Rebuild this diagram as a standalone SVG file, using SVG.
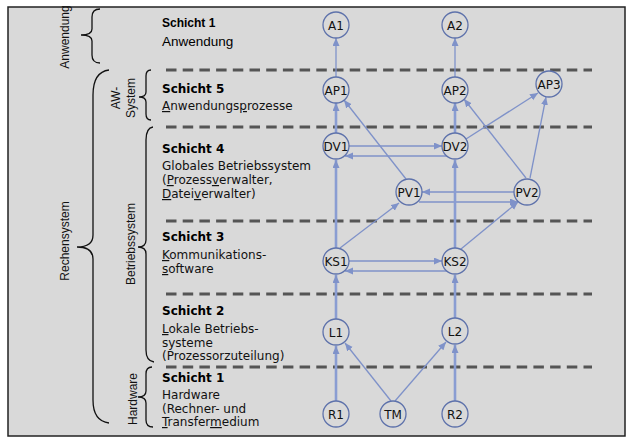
<svg xmlns="http://www.w3.org/2000/svg" width="635" height="444" viewBox="0 0 635 444">
<style>
.bg{fill:#d9d9d9;stroke:#222;stroke-width:1.5}
.dash{stroke:#555;stroke-width:3;stroke-dasharray:10.5 6.2;fill:none}
.brace{fill:none;stroke:#111;stroke-width:1.3}
.lbl{font-family:"Liberation Sans",Arial,sans-serif;font-size:12px;fill:#111;text-anchor:middle}
.h{font-family:"DejaVu Sans",Verdana,sans-serif;font-size:12px;fill:#111}
.hb{font-family:"DejaVu Sans",Verdana,sans-serif;font-size:12px;font-weight:bold;fill:#000}
.u{text-decoration:underline}
.node circle{fill:#d9d9d9;stroke:#5e72ab;stroke-width:1.3}
.node text{font-family:"DejaVu Sans",Verdana,sans-serif;font-size:12px;fill:#111;text-anchor:middle}
.e{stroke:#7f92c9;stroke-width:1.3;fill:none;marker-end:url(#ah)}
.v{stroke:#8a9dd2;stroke-width:2.6}
</style>
<defs>
<marker id="ah" markerUnits="userSpaceOnUse" markerWidth="9" markerHeight="8" refX="8" refY="3.5" orient="auto">
<path d="M0,0 L8,3.5 L0,7 z" fill="#7f92c9"/>
</marker>
</defs>
<rect class="bg" x="8" y="7" width="617" height="429"/>

<g id="layers">
<line class="dash" x1="166" y1="70" x2="592" y2="70"/>
<line class="dash" x1="166" y1="127" x2="592" y2="127"/>
<line class="dash" x1="166" y1="221" x2="592" y2="221"/>
<line class="dash" x1="166" y1="294" x2="592" y2="294"/>
<line class="dash" x1="166" y1="367" x2="592" y2="367"/>
</g>

<g id="braces">
<path class="brace" d="M100,9 Q92,9 92,17 L92,29 Q92,35 81,35 Q92,35 92,41 L92,55 Q92,63 100,63"/>
<path class="brace" d="M109,70 Q93,72 93,95 L93,235 Q93,247 77,247 Q93,247 93,259 L93,400 Q93,421 109,423"/>
<path class="brace" d="M151,70 Q146,70 146,76 L146,92 Q146,97 139,97 Q146,97 146,102 L146,114 Q146,120 151,120"/>
<path class="brace" d="M153,127 Q146,128 146,140 L146,240 Q146,247 138,247 Q146,247 146,254 L146,350 Q146,361 154,362"/>
<path class="brace" d="M152,367 Q146,367 146,374 L146,391 Q146,397 138,397 Q146,397 146,403 L146,420 Q146,427 153,427"/>
</g>

<g id="side-labels">
<text class="lbl" transform="translate(69,37) rotate(-90)">Anwendung</text>
<text class="lbl" transform="translate(69,241) rotate(-90)">Rechensystem</text>
<text class="lbl" transform="translate(120,98) rotate(-90)">AW-</text>
<text class="lbl" transform="translate(134.5,98) rotate(-90)">System</text>
<text class="lbl" transform="translate(134.5,244) rotate(-90)">Betriebssystem</text>
<text class="lbl" transform="translate(137,399) rotate(-90)">Hardware</text>
</g>

<g id="layer-texts">
<text x="162" y="27" style="font-family:'Liberation Sans',Arial,sans-serif;font-size:12px;font-weight:bold">Schicht 1</text>
<text x="162" y="46" style="font-family:'Liberation Sans',Arial,sans-serif;font-size:13.5px">Anwendung</text>
<text class="hb" x="162" y="93">Schicht 5</text>
<text class="h" x="162" y="110"><tspan class="u">A</tspan>nwendungs<tspan class="u">p</tspan>rozesse</text>
<text class="hb" x="162" y="153">Schicht 4</text>
<text class="h" x="162" y="170">Globales Betriebssystem</text>
<text class="h" x="162" y="184">(<tspan class="u">P</tspan>rozess<tspan class="u">v</tspan>erwalter,</text>
<text class="h" x="162" y="198"><tspan class="u">D</tspan>atei<tspan class="u">v</tspan>erwalter)</text>
<text class="hb" x="162" y="241">Schicht 3</text>
<text class="h" x="162" y="259"><tspan class="u">K</tspan>ommunikations-</text>
<text class="h" x="162" y="273"><tspan class="u">s</tspan>oftware</text>
<text class="hb" x="162" y="315">Schicht 2</text>
<text class="h" x="162" y="333"><tspan class="u">L</tspan>okale Betriebs-</text>
<text class="h" x="162" y="346.5">systeme</text>
<text class="h" x="162" y="360">(Prozessorzuteilung)</text>
<text class="hb" x="162" y="382">Schicht 1</text>
<text class="h" x="162" y="399">Hardware</text>
<text class="h" x="162" y="412.5">(Rechner- und</text>
<text class="h" x="162" y="426"><tspan class="u">T</tspan>ransfer<tspan class="u">m</tspan>edium</text>
</g>

<g id="connectors">
<line class="e" x1="336" y1="77" x2="336" y2="38"/>
<line class="e" x1="455" y1="77" x2="455" y2="38"/>
<line class="e v" x1="336" y1="133" x2="336" y2="103"/>
<line class="e v" x1="455" y1="133" x2="455" y2="103"/>
<line class="e" x1="349" y1="146" x2="442" y2="146"/>
<line class="e" x1="447" y1="156" x2="345" y2="156"/>
<line class="e" x1="406" y1="179" x2="344" y2="100"/>
<line class="e" x1="526" y1="178" x2="464" y2="99"/>
<line class="e" x1="466" y1="139" x2="538" y2="93"/>
<line class="e" x1="530" y1="178" x2="546" y2="97"/>
<line class="e" x1="514" y1="192" x2="422" y2="192"/>
<line class="e" x1="419" y1="202" x2="518" y2="202"/>
<line class="e v" x1="336" y1="248" x2="336" y2="160"/>
<line class="e v" x1="455" y1="248" x2="455" y2="160"/>
<line class="e" x1="340" y1="248" x2="399" y2="203"/>
<line class="e" x1="461" y1="249" x2="518" y2="202"/>
<line class="e" x1="349" y1="261" x2="442" y2="261"/>
<line class="e" x1="447" y1="271" x2="345" y2="271"/>
<line class="e v" x1="336" y1="319" x2="336" y2="275"/>
<line class="e v" x1="455" y1="318" x2="455" y2="275"/>
<line class="e v" x1="336" y1="401" x2="336" y2="346"/>
<line class="e v" x1="455" y1="401" x2="455" y2="345"/>
<line class="e" x1="391" y1="401" x2="345" y2="343"/>
<line class="e" x1="395" y1="401" x2="446" y2="342"/>
</g>

<g id="A1" class="node"><circle cx="336" cy="25" r="13"/><text x="336" y="29.5">A1</text></g>
<g id="A2" class="node"><circle cx="455" cy="25" r="13"/><text x="455" y="29.5">A2</text></g>
<g id="AP1" class="node"><circle cx="336" cy="90" r="13"/><text x="336" y="94.5">AP1</text></g>
<g id="AP2" class="node"><circle cx="455" cy="90" r="13"/><text x="455" y="94.5">AP2</text></g>
<g id="AP3" class="node"><circle cx="549" cy="84" r="13"/><text x="549" y="88.5">AP3</text></g>
<g id="DV1" class="node"><circle cx="336" cy="146" r="13"/><text x="336" y="150.5">DV1</text></g>
<g id="DV2" class="node"><circle cx="455" cy="146" r="13"/><text x="455" y="150.5">DV2</text></g>
<g id="PV1" class="node"><circle cx="409" cy="192" r="13"/><text x="409" y="196.5">PV1</text></g>
<g id="PV2" class="node"><circle cx="527" cy="192" r="13"/><text x="527" y="196.5">PV2</text></g>
<g id="KS1" class="node"><circle cx="336" cy="261" r="13"/><text x="336" y="265.5">KS1</text></g>
<g id="KS2" class="node"><circle cx="455" cy="261" r="13"/><text x="455" y="265.5">KS2</text></g>
<g id="L1" class="node"><circle cx="336" cy="332" r="13"/><text x="336" y="336.5">L1</text></g>
<g id="L2" class="node"><circle cx="455" cy="331" r="13"/><text x="455" y="335.5">L2</text></g>
<g id="R1" class="node"><circle cx="336" cy="414" r="13"/><text x="336" y="418.5">R1</text></g>
<g id="TM" class="node"><circle cx="393" cy="414" r="13"/><text x="393" y="418.5">TM</text></g>
<g id="R2" class="node"><circle cx="455" cy="414" r="13"/><text x="455" y="418.5">R2</text></g>
</svg>
